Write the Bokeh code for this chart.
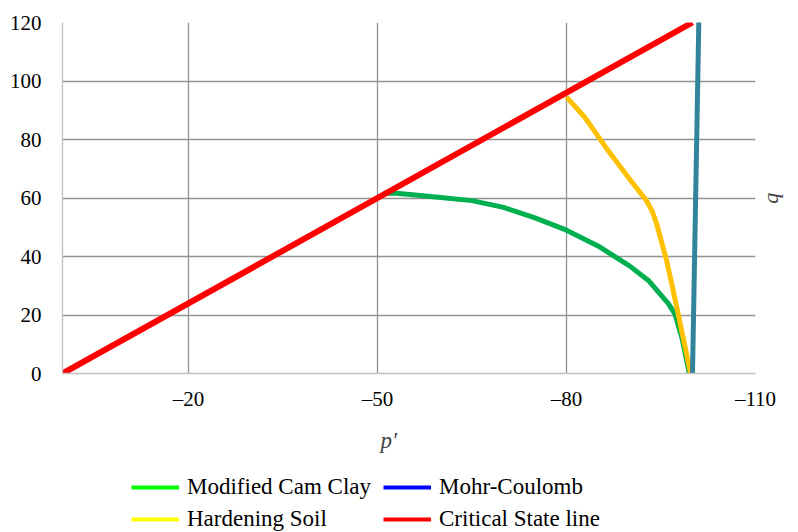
import math
from bokeh.plotting import figure
from bokeh.layouts import column
from bokeh.models import Range1d, FixedTicker, Legend, LegendItem, Title, LinearAxis
from bokeh.embed import file_html
from bokeh.resources import INLINE

# ---- data ----
mcc_p = [-51, -53, -56, -60, -65, -70, -75, -80, -85, -90, -93, -96.2, -97.2, -98.3, -99.5]
mcc_q = [61.6, 61.6, 61.0, 60.2, 59.1, 56.8, 53.2, 49.0, 43.6, 36.8, 31.8, 23.8, 20.4, 12.4, 0]

hs_p = [-80, -82.9, -86.6, -90, -92.7, -93.6, -94.3, -95.9, -97.5, -99.7]
hs_q = [94.5, 87.6, 76.2, 66.5, 59.1, 55.5, 51.2, 38.6, 22.7, 0]

mc_p = [-100, -101]
mc_q = [0, 120]

csl_p = [0, -100]
csl_q = [0, 120]

x_ticks = [-20, -50, -80, -110]
x_tick_labels = ["–20", "–50", "–80", "–110"]
y_ticks = [0, 20, 40, 60, 80, 100, 120]

legend_col1_names = ["Modified Cam Clay", "Hardening Soil"]
legend_col1_colors = ["#00FF00", "#FFFF00"]
legend_col2_names = ["Mohr-Coulomb", "Critical State line"]
legend_col2_colors = ["#0000FF", "#FF0000"]

FONT = "Liberation Serif"

p = figure(width=798, height=465, output_backend="svg", toolbar_location=None,
           x_range=Range1d(0, -110), y_range=Range1d(0, 120),
           min_border_left=62, min_border_top=22, min_border_right=43, min_border_bottom=92)
p.outline_line_color = None
p.background_fill_color = "white"

# axes
p.xaxis.ticker = FixedTicker(ticks=x_ticks)
p.xaxis.major_label_overrides = {t: s for t, s in zip(x_ticks, x_tick_labels)}
p.yaxis.ticker = FixedTicker(ticks=y_ticks)
for ax in (p.xaxis, p.yaxis):
    ax.axis_line_color = "#C0C0C0"
    ax.axis_line_width = 1.3
    ax.major_tick_line_color = None
    ax.minor_tick_line_color = None
    ax.major_label_text_font = FONT
    ax.major_label_text_font_size = "21px"
    ax.major_label_text_color = "black"
p.yaxis.major_label_standoff = 15
p.xaxis.major_label_standoff = 7

p.xgrid.ticker = FixedTicker(ticks=x_ticks)
p.ygrid.ticker = FixedTicker(ticks=y_ticks)
for g in (p.xgrid, p.ygrid):
    g.grid_line_color = "#929292"
    g.grid_line_width = 1.3

# right-hand "q" label
q_axis = LinearAxis(ticker=FixedTicker(ticks=[58]), major_label_overrides={58: "q"},
                    axis_line_color=None, major_tick_line_color=None, minor_tick_line_color=None,
                    major_label_text_font=FONT, major_label_text_font_style="italic",
                    major_label_text_font_size="22px", major_label_standoff=9,
                    major_label_orientation=math.pi / 2)
p.add_layout(q_axis, "right")

p.add_layout(Title(text="p′", text_font=FONT, text_font_style="italic",
                   text_font_size="23px", align="left", offset=318, standoff=24), "below")

# data lines
p.line(mcc_p, mcc_q, line_color="#00B050", line_width=5)
p.line(hs_p, hs_q, line_color="#FFC000", line_width=5)
p.line(mc_p, mc_q, line_color="#31849B", line_width=5, line_cap="round")
p.line(csl_p, csl_q, line_color="#FF0000", line_width=6)

# legend in its own strip below the chart
lf = figure(width=798, height=67, output_backend="svg", toolbar_location=None,
            x_range=Range1d(0, 1), y_range=Range1d(0, 1),
            x_axis_location=None, y_axis_location=None, min_border=0)
lf.outline_line_color = None
lf.grid.visible = False


def make_legend(names, colors, x):
    items = []
    for name, col in zip(names, colors):
        # proxy lines kept outside the visible range; only their legend glyphs show
        r = lf.line([5, 6], [5, 6], line_color=col, line_width=4)
        items.append(LegendItem(label=name, renderers=[r]))
    return Legend(items=items, location=(x, 0), orientation="vertical",
                  glyph_width=48, glyph_height=24, label_standoff=8, spacing=6,
                  padding=0, margin=0, border_line_color=None, background_fill_alpha=0,
                  label_text_font=FONT, label_text_font_size="23px", label_text_color="black")


lf.add_layout(make_legend(legend_col1_names, legend_col1_colors, 69), "center")
lf.add_layout(make_legend(legend_col2_names, legend_col2_colors, 321), "center")

open("out.html", "w").write(file_html(column(p, lf), INLINE))
